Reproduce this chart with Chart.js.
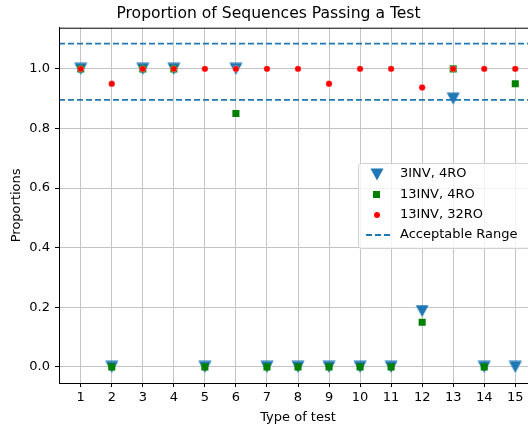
<!DOCTYPE html>
<html>
<head>
<meta charset="utf-8">
<script src="https://cdn.jsdelivr.net/npm/chart.js@4.4.1/dist/chart.umd.min.js"></script>
<style>
  body { margin: 0; background: #fff; }
  #wrap { width: 528px; height: 428px; overflow: hidden; }
</style>
</head>
<body>
<div id="wrap"><canvas id="chart" width="550" height="428"></canvas></div>
<script>
// test numbers on x axis
var tests = [1, 2, 3, 4, 5, 6, 7, 8, 9, 10, 11, 12, 13, 14, 15];
// proportions per configuration
var inv3ro4 = [1, 0, 1, 1, 0, 1, 0, 0, 0, 0, 0, 0.1875, 0.9, 0, 0];
var inv13ro4 = [1, 0, 1, 1, 0, 0.85, 0, 0, 0, 0, 0, 0.15, 1, 0, 0.95];
var inv13ro32 = [1, 0.95, 1, 1, 1, 1, 1, 1, 0.95, 1, 1, 0.9375, 1, 1, 1];
// acceptable range limits
var rangeLow = 0.8956;
var rangeHigh = 1.0844;
var xLimits = [0.3, 15.7];
var yLimits = [-0.054, 1.138];
var yTicks = [0, 0.2, 0.4, 0.6, 0.8, 1.0];

var seriesNames = ["3INV, 4RO", "13INV, 4RO", "13INV, 32RO", "Acceptable Range"];
var BLUE = "#1f77b4";
var FONT = "DejaVu Sans";

// down triangle marker, centred on its box like matplotlib 'v'
function makeTriangle() {
  var c = document.createElement("canvas");
  c.width = 14; c.height = 13;
  var g = c.getContext("2d");
  g.fillStyle = BLUE;
  g.beginPath();
  g.moveTo(0.5, 0.5);
  g.lineTo(13.5, 0.5);
  g.lineTo(7, 12.5);
  g.closePath();
  g.fill();
  return c;
}
var triangle = makeTriangle();

function pts(vals) {
  return tests.map(function (t, i) { return { x: t, y: vals[i] }; });
}
function hline(v) {
  return [{ x: xLimits[0], y: v }, { x: xLimits[1], y: v }];
}

// frame round the axes (matplotlib style spines)
var framePlugin = {
  id: "frame",
  afterDraw: function (chart) {
    var a = chart.chartArea, ctx = chart.ctx;
    ctx.save();
    ctx.strokeStyle = "#000";
    ctx.lineWidth = 1;
    ctx.strokeRect(a.left + 0.5, a.top + 0.5, a.right - a.left, a.bottom - a.top);
    ctx.restore();
  }
};

// legend drawn inside the plot, like the original
var legendPlugin = {
  id: "innerLegend",
  afterDraw: function (chart) {
    var ctx = chart.ctx;
    var x0 = 358, y0 = 163, w = 185, h = 85;
    ctx.save();
    ctx.fillStyle = "rgba(255,255,255,0.8)";
    ctx.strokeStyle = "#d0d0d0";
    ctx.lineWidth = 1;
    ctx.beginPath();
    ctx.roundRect(x0 + 0.5, y0 + 0.5, w, h, 3);
    ctx.fill();
    ctx.stroke();

    var mx = 377, tx = 400, rows = [174, 195, 215, 235];
    ctx.drawImage(triangle, mx - 7, rows[0] - 6);
    ctx.fillStyle = "green";
    ctx.fillRect(mx - 4, rows[1] - 4, 7, 7);
    ctx.fillStyle = "red";
    ctx.beginPath();
    ctx.arc(mx, rows[2], 3, 0, Math.PI * 2);
    ctx.fill();
    ctx.strokeStyle = BLUE;
    ctx.lineWidth = 1.8;
    ctx.setLineDash([6, 3]);
    ctx.beginPath();
    ctx.moveTo(366, rows[3]);
    ctx.lineTo(393, rows[3]);
    ctx.stroke();
    ctx.setLineDash([]);

    ctx.fillStyle = "#000";
    ctx.font = "13px '" + FONT + "'";
    ctx.textBaseline = "middle";
    for (var i = 0; i < seriesNames.length; i++) {
      ctx.fillText(seriesNames[i], tx, rows[i]);
    }
    ctx.restore();
  }
};

var ctx = document.getElementById("chart").getContext("2d");
var chart = new Chart(ctx, {
  type: "scatter",
  data: {
    datasets: [
      {
        label: seriesNames[2],
        data: pts(inv13ro32),
        pointStyle: "circle",
        pointRadius: 3.2,
        backgroundColor: "red",
        borderColor: "rgba(255,255,255,0.6)",
        pointBorderWidth: 0.5
      },
      {
        label: seriesNames[1],
        data: pts(inv13ro4),
        pointStyle: "rect",
        pointRadius: 5,
        backgroundColor: "green",
        borderColor: "green",
        pointBorderWidth: 0
      },
      {
        label: seriesNames[0],
        data: pts(inv3ro4),
        pointStyle: triangle,
        backgroundColor: BLUE,
        borderColor: BLUE
      },
      {
        label: seriesNames[3],
        type: "line",
        data: hline(rangeHigh),
        showLine: true,
        borderColor: BLUE,
        borderWidth: 1.8,
        borderDash: [6, 3],
        pointRadius: 0
      },
      {
        label: seriesNames[3],
        type: "line",
        data: hline(rangeLow),
        showLine: true,
        borderColor: BLUE,
        borderWidth: 1.8,
        borderDash: [6, 3],
        pointRadius: 0
      }
    ]
  },
  options: {
    responsive: false,
    animation: false,
    devicePixelRatio: 1,
    layout: { padding: { left: 0, right: 13, top: 0, bottom: 0 } },
    plugins: {
      legend: { display: false },
      tooltip: { enabled: false },
      title: {
        display: true,
        text: "Proportion of Sequences Passing a Test",
        color: "#000",
        font: { family: FONT, size: 15.6, weight: "normal" },
        padding: { top: 5, bottom: 4 }
      }
    },
    scales: {
      x: {
        type: "linear",
        min: xLimits[0],
        max: xLimits[1],
        afterBuildTicks: function (scale) {
          scale.ticks = tests.map(function (v) { return { value: v }; });
        },
        afterFit: function (scale) { scale.height = 45; },
        grid: { color: "#c4c4c4", lineWidth: 1, tickColor: "#000", tickLength: 4 },
        border: { color: "#000" },
        ticks: {
          color: "#000",
          padding: 3,
          maxRotation: 0,
          autoSkip: false,
          font: { family: FONT, size: 13 },
          callback: function (v) { return String(v); }
        },
        title: {
          display: true,
          text: "Type of test",
          color: "#000",
          font: { family: FONT, size: 13 },
          padding: { top: 0, bottom: 3 }
        }
      },
      y: {
        type: "linear",
        min: yLimits[0],
        max: yLimits[1],
        afterBuildTicks: function (scale) {
          scale.ticks = yTicks.map(function (v) { return { value: v }; });
        },
        afterFit: function (scale) { scale.width = 59; },
        grid: { color: "#c4c4c4", lineWidth: 1, tickColor: "#000", tickLength: 4 },
        border: { color: "#000" },
        ticks: {
          color: "#000",
          padding: 5,
          font: { family: FONT, size: 13 },
          callback: function (v) { return v.toFixed(1); }
        },
        title: {
          display: true,
          text: "Proportions",
          color: "#000",
          font: { family: FONT, size: 13 },
          padding: { top: 9, bottom: 0 }
        }
      }
    }
  },
  plugins: [framePlugin, legendPlugin]
});
</script>
</body>
</html>
